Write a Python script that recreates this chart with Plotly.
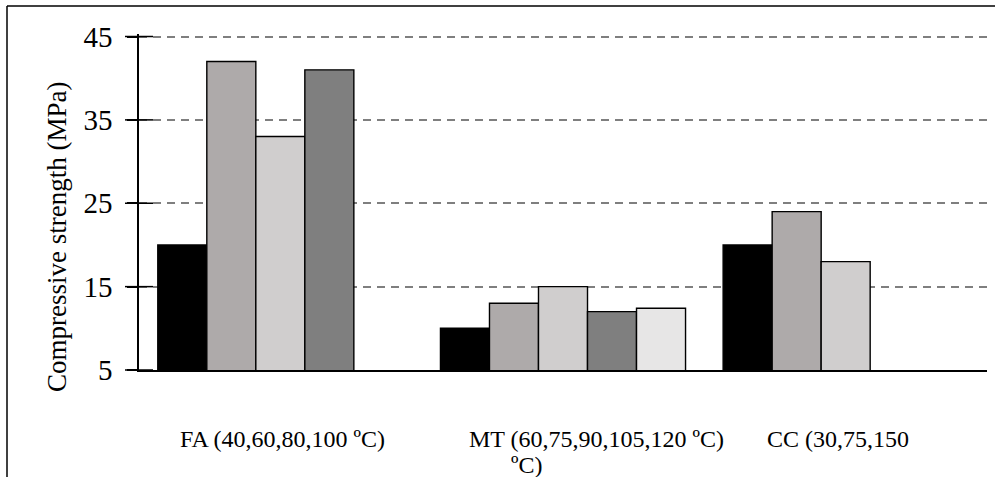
import plotly.graph_objects as go

# Mixture groups and their curing-temperature series
categories = ["FA (40,60,80,100 ºC)", "MT (60,75,90,105,120 ºC)", "CC (30,75,150"]
wrapped_tail = "ºC)"
series_names = ["T1", "T2", "T3", "T4", "T5"]
strength_t1 = [20, 10, 20]
strength_t2 = [42, 13, 24]
strength_t3 = [33, 15, 18]
strength_t4 = [41, 12, None]
strength_t5 = [None, 12.4, None]
y_ticks = [5, 15, 25, 35, 45]
y_range = [5, 45.3]

series_values = [strength_t1, strength_t2, strength_t3, strength_t4, strength_t5]
fills = ["#000000", "#AEAAAA", "#D0CECE", "#7F7F7F", "#E7E6E6"]

W, H = 1004, 477
ML, MR, MT_, MB = 139, 17, 34, 107
PW, PH = W - ML - MR, H - MT_ - MB


def px_x(px):
    return (px - ML) / PW


def px_y(py):
    return (H - MB - py) / PH


FONT = "Liberation Serif, Times New Roman, serif"

fig = go.Figure()
for name, vals, col in zip(series_names, series_values, fills):
    fig.add_trace(go.Bar(
        x=categories, y=vals, name=name,
        marker=dict(color=col, line=dict(color="#000000", width=1.4)),
    ))

# Cross-shaped tick marks straddling the value axis
fig.add_trace(go.Scatter(
    x=[0] * len(y_ticks), y=y_ticks, xaxis="x2", mode="markers",
    marker=dict(symbol="line-ew", size=20,
                line=dict(color="#000000", width=1.5)),
    cliponaxis=False, showlegend=False, hoverinfo="skip",
))

fig.update_layout(
    width=W, height=H,
    margin=dict(l=ML, r=MR, t=MT_, b=MB, autoexpand=False),
    paper_bgcolor="white", plot_bgcolor="white",
    barmode="group", bargap=0.133, bargroupgap=0,
    showlegend=False,
    font=dict(family=FONT, color="#000000"),
    xaxis=dict(
        showticklabels=False, ticks="", showgrid=False,
        showline=True, linecolor="#000000", linewidth=2,
        zeroline=False,
    ),
    xaxis2=dict(range=[0, 1], overlaying="x", visible=False),
    yaxis=dict(
        range=y_range, tickvals=y_ticks, ticks="outside", ticklen=10,
        tickwidth=1.5, tickcolor="#000000",
        showline=True, linecolor="#000000", linewidth=1.5,
        showgrid=True, gridcolor="#7F7F7F", gridwidth=1.8, griddash="8px,6px",
        zeroline=False, ticklabelstandoff=9,
        tickfont=dict(family=FONT, size=29, color="#000000"),
    ),
)

# Axis title
fig.add_annotation(
    text="Compressive strength (MPa)", textangle=-90,
    xref="paper", yref="paper", x=px_x(57), y=px_y(237),
    xanchor="center", yanchor="middle", showarrow=False,
    font=dict(family=FONT, size=27, color="#000000"),
)

# Category labels below the axis
label_shift = [2, 33, -8]
for cat, dx in zip(categories, label_shift):
    fig.add_annotation(
        text=cat, xref="x", yref="paper", x=cat, y=px_y(439), xshift=dx,
        xanchor="center", yanchor="middle", showarrow=False,
        font=dict(family=FONT, size=24, color="#000000"),
    )
fig.add_annotation(
    text=wrapped_tail, xref="x", yref="paper", x=categories[1], y=px_y(465),
    xshift=-37, xanchor="center", yanchor="middle", showarrow=False,
    font=dict(family=FONT, size=24, color="#000000"),
)

# Outer frame (left and top edges)
frame = dict(color="#000000", width=1.5)
fig.add_shape(type="line", xref="paper", yref="paper",
              x0=px_x(7), x1=px_x(7), y0=px_y(6), y1=px_y(H + 2), line=frame)
fig.add_shape(type="line", xref="paper", yref="paper",
              x0=px_x(7), x1=px_x(995), y0=px_y(6), y1=px_y(6), line=frame)

fig.write_html("out.html")
